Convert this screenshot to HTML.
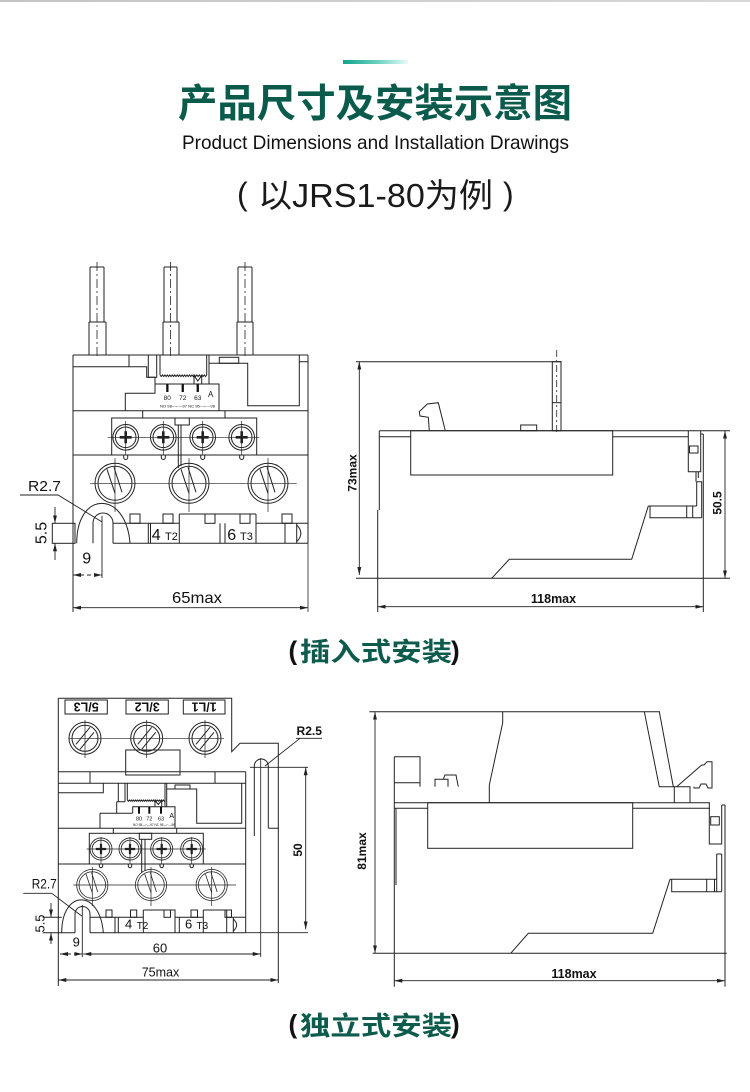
<!DOCTYPE html>
<html><head><meta charset="utf-8"><style>html,body{margin:0;padding:0;background:#fff}svg{display:block}</style></head>
<body>
<svg xmlns="http://www.w3.org/2000/svg" width="750" height="1092" viewBox="0 0 750 1092">
<defs>
<linearGradient id="tg" x1="0" x2="1" y1="0" y2="0"><stop offset="0" stop-color="#10a48c"/><stop offset="0.55" stop-color="#6fd3c1"/><stop offset="1" stop-color="#e8fbf8"/></linearGradient>
<linearGradient id="gb" x1="0" x2="1" y1="0" y2="0"><stop offset="0" stop-color="#c4c4c4"/><stop offset="1" stop-color="#d8d8d8"/></linearGradient>
<marker id="ar" viewBox="0 0 8 4" refX="8" refY="2" markerWidth="8" markerHeight="4" orient="auto-start-reverse" markerUnits="userSpaceOnUse"><path d="M0,0L8,2L0,4z" fill="#222"/></marker>
<g id="ss" fill="none" stroke="#222"><circle r="12.8"/><circle r="10.3"/><path d="M-6,0H6M0,-6V6" stroke-width="2.6"/></g>
<g id="bs" fill="none" stroke="#222"><circle r="20"/><circle r="17"/><path d="M-8,-14L0,10M-1,-16L7,9"/></g>
<g id="ls" fill="none" stroke="#222"><circle r="16"/><circle r="13"/><path d="M-9,6L5,-11M-5,11L9,-6"/></g>
</defs>

<!-- header -->
<rect x="0" y="0" width="750" height="2" fill="url(#gb)"/>
<rect x="343" y="60" width="65" height="4" fill="url(#tg)"/>
<text x="178" y="117" font-family="'Liberation Sans','Noto Sans CJK SC',sans-serif" font-weight="700" font-size="39" fill="#0b5b4c" textLength="394" lengthAdjust="spacingAndGlyphs">产品尺寸及安装示意图</text>
<text x="182" y="149" font-family="'Liberation Sans',sans-serif" font-size="19.5" fill="#111" textLength="387" lengthAdjust="spacingAndGlyphs">Product Dimensions and Installation Drawings</text>
<g font-family="'Liberation Sans','Noto Sans CJK SC',sans-serif" fill="#1a1a1a">
<text x="237" y="205" font-size="32">(</text>
<text x="258" y="207" font-size="33" textLength="235" lengthAdjust="spacingAndGlyphs">以JRS1-80为例</text>
<text x="503" y="205" font-size="32">)</text>
</g>

<!-- ===== TOP LEFT DRAWING ===== -->
<g fill="none" stroke="#222" stroke-width="1">
<path d="M90,267H104M90,267V322M104,267V322M89,322H106M89,322V355M106,322V355"/>
<path d="M164,267H177M164,267V322M177,267V322M163,322H179M163,322V355M179,322V355"/>
<path d="M238,267H252M238,267V322M252,267V322M237,322H253M237,322V355M253,322V355"/>
<path d="M97,262V358M170.5,262V358M245,262V358" stroke-width="0.8" stroke-dasharray="9 3 2 3"/>
<path d="M73,355H308M73,355V612M308,355V543.3"/>
<path d="M308,543.3V612" stroke-width="0.8"/>
<path d="M129,355V366.7M73,366.7H146.7V377.3H155V393.3H125.3V410.7"/>
<rect x="148.3" y="355" width="8.4" height="22.3"/>
<path d="M155,393.3V384H219V410.7"/>
<path d="M160,375V355M206.7,355V375"/>
<path d="M160,375l1.23,1.6l1.23,-1.6l1.23,1.6l1.23,-1.6l1.23,1.6l1.23,-1.6l1.23,1.6l1.23,-1.6l1.23,1.6l1.23,-1.6l1.23,1.6l1.23,-1.6l1.23,1.6l1.23,-1.6l1.23,1.6l1.23,-1.6l1.23,1.6l1.23,-1.6l1.23,1.6l1.23,-1.6l1.23,1.6l1.23,-1.6l1.23,1.6l1.23,-1.6l1.23,1.6l1.23,-1.6l1.23,1.6l1.23,-1.6l1.23,1.6l1.23,-1.6l1.23,1.6l1.23,-1.6l1.23,1.6l1.23,-1.6l1.23,1.6l1.23,-1.6l1.23,1.6l1.23,-1.6"/>
<path d="M194,384V375.5L197.8,381L201.7,375.5V384"/>
<path d="M209,355V384"/>
<path d="M209,363.3H247.7V405.7H299.3V355"/>
<rect x="219.3" y="357.3" width="19.4" height="6"/>
<path d="M299.3,361.7H308"/>
<path d="M73,410.7H308"/>
<path d="M142.7,410.7V418M225,410.7V418"/>
<rect x="111.7" y="418" width="145" height="37"/>
<rect x="175" y="418" width="14.3" height="7"/>
<path d="M178.3,425V468M181,425V466"/>
<path d="M107.7,437.3H259.3M125.7,421V455M163.3,421V455M202.7,421V455M241.7,421V455" stroke-width="0.7"/>
<path d="M73,455H308"/>
<path d="M123.7,455v2.5a2,2 0 0 0 4,0v-2.5M161.3,455v2.5a2,2 0 0 0 4,0v-2.5M200.7,455v2.5a2,2 0 0 0 4,0v-2.5M239.7,455v2.5a2,2 0 0 0 4,0v-2.5"/>
<path d="M90,483.3H296.7M115,458V512M189,458V512M268,458V512" stroke-width="0.7"/>
<!-- strip -->
<rect x="52.3" y="523.3" width="22.7" height="20"/>
<path d="M76.7,543.3C76.7,490 126,490 130,543.3"/>
<path d="M93,543.3V523A10,10 0 0 1 113,523V543.3"/>
<path d="M113,543.3H308"/>
<path d="M113,523.3H179.3M256,523.3H308"/>
<path d="M179.3,514V543.3M256,514V543.3M179.3,514H256"/>
<rect x="130" y="514" width="10" height="9.3"/>
<rect x="163" y="514" width="10" height="9.3"/>
<rect x="205" y="514" width="10" height="9.3"/>
<rect x="240" y="514" width="10" height="9.3"/>
<rect x="282" y="514" width="10" height="9.3"/>
<path d="M148.3,523.3V543.3M150.5,523.3V543.3M220,523.3V543.3M225,523.3V543.3M285,523.3V543.3M296.7,523.3V543.3"/>
<path d="M296.7,525Q305,533.3 296.7,541.6"/>
</g>
<g fill="none" stroke="#222" stroke-width="0.9">
<path d="M20,495H58L101.7,521.7"/>
<path d="M55,507V523.3" marker-end="url(#ar)"/>
<path d="M55,560V543.3" marker-end="url(#ar)"/>
<path d="M102,516V578"/>
<path d="M73,575H102" stroke-dasharray="4 3" marker-start="url(#ar)" marker-end="url(#ar)"/>
<path d="M73,607.7H308" marker-start="url(#ar)" marker-end="url(#ar)"/>
</g>
<use href="#ss" transform="translate(125.7,437.3)"/>
<use href="#ss" transform="translate(163.3,437.3)"/>
<use href="#ss" transform="translate(202.7,437.3)"/>
<use href="#ss" transform="translate(241.7,437.3)"/>
<use href="#bs" transform="translate(115,483.3)"/>
<use href="#bs" transform="translate(189,483.3)"/>
<use href="#bs" transform="translate(268,483.3)"/>
<g fill="#111" font-family="'Liberation Sans',sans-serif">
<rect x="166.2" y="384" width="2.3" height="8"/>
<rect x="181.6" y="384" width="2.3" height="8"/>
<rect x="196.6" y="384" width="2.3" height="8"/>
<text x="167.3" y="400" font-size="6.5" text-anchor="middle">80</text>
<text x="182.7" y="400" font-size="6.5" text-anchor="middle">72</text>
<text x="197.7" y="400" font-size="6.5" text-anchor="middle">63</text>
<text x="210.7" y="397" font-size="8" text-anchor="middle">A</text>
<text x="160" y="407.5" font-size="3.8" textLength="55" lengthAdjust="spacingAndGlyphs">NO 98—⌐—97  NC 95—⌐—96</text>
<text x="151.7" y="540" font-size="16">4</text>
<text x="165" y="540" font-size="11">T2</text>
<text x="227.3" y="540" font-size="16">6</text>
<text x="240" y="540" font-size="11">T3</text>
<text x="28" y="491" font-size="15" textLength="33" lengthAdjust="spacingAndGlyphs">R2.7</text>
<text transform="translate(41,533) rotate(-90)" y="5.6" font-size="16" text-anchor="middle">5.5</text>
<text x="86.7" y="563.5" font-size="16" text-anchor="middle">9</text>
<text x="172" y="603" font-size="16" textLength="50" lengthAdjust="spacingAndGlyphs">65max</text>
</g>

<!-- ===== TOP RIGHT DRAWING ===== -->
<g fill="none" stroke="#222" stroke-width="1">
<path d="M356,361.7H561.7"/>
<path d="M359.3,361.7V575" stroke-width="0.9" marker-start="url(#ar)" marker-end="url(#ar)"/>
<path d="M356,578.3H730"/>
<rect x="552.3" y="361.7" width="8.7" height="69"/>
<path d="M552.3,402.7H561"/>
<path d="M556.7,350V434" stroke-width="0.8" stroke-dasharray="7 3 2 3"/>
<path d="M379.3,430.7H730"/>
<path d="M379.3,436.7H410.7M612.7,436.7H688.3"/>
<path d="M379.3,430.7V510M377.7,510V612"/>
<rect x="410.7" y="430.7" width="202" height="44.3"/>
<path d="M429.3,430.7L428.3,417.3L420,416L419.3,411.7L427.3,404L438.3,402.7L445.3,430.7"/>
<rect x="520.7" y="425" width="16" height="5.7"/>
<path d="M688.3,430.7V471.7H700.7V430.7"/>
<rect x="689.5" y="446" width="8.5" height="7"/>
<path d="M696,471.7V481.7M698.3,471.7V478"/>
<path d="M700.7,434H703.3M703.3,434V612"/>
<path d="M696.7,481.7H701.7V517.7M696.7,481.7V506"/>
<path d="M648.3,506H696.7M650,506V517.7H701.7M686.7,506V517.7M692.7,506V517.7"/>
<path d="M648.3,506L631.7,559.3H509.3L491.7,578.3"/>
<path d="M725,430.7V578.3" stroke-width="0.9" marker-start="url(#ar)" marker-end="url(#ar)"/>
<path d="M377.7,606.7H703.3" stroke-width="0.9" marker-start="url(#ar)" marker-end="url(#ar)"/>
</g>
<g fill="#111" font-family="'Liberation Sans',sans-serif" font-weight="700" font-size="12">
<text transform="translate(352,473) rotate(-90)" y="4.3" text-anchor="middle">73max</text>
<text transform="translate(717,503) rotate(-90)" y="4.3" text-anchor="middle">50.5</text>
<text x="553.5" y="603" text-anchor="middle" font-size="12.5">118max</text>
</g>

<!-- heading 1 -->
<g font-family="'Liberation Sans','Noto Sans CJK SC',sans-serif" font-weight="700">
<text x="288.5" y="659.5" font-size="26" fill="#111">(</text>
<text x="300" y="661" font-size="26" fill="#0c5b4c" textLength="152" lengthAdjust="spacingAndGlyphs">插入式安装</text>
<text x="451" y="659.5" font-size="26" fill="#111">)</text>
</g>

<!-- ===== BOTTOM LEFT DRAWING ===== -->
<g fill="none" stroke="#222" stroke-width="1">
<path d="M58.3,698.3H231.7V751.7L240,743.3H278.3V828.3H268.3"/>
<path d="M58.3,698.3V986"/>
<rect x="65" y="700" width="42.3" height="14"/>
<rect x="126" y="700" width="42.3" height="14"/>
<rect x="183.3" y="700" width="41.7" height="14"/>
<path d="M68.3,738.3H224M85,720V758M146.7,720V758M205,720V758" stroke-width="0.7"/>
<rect x="125.7" y="750" width="54.3" height="25"/>
<path d="M58.3,771.7H245.7M58.3,783.3H245.7M90,771.7V783.3M215,771.7V783.3"/>
<path d="M245.7,771.7V932.7"/>
<path d="M254.3,836V766A7,7 0 0 1 268.3,766V828.3"/>
<path d="M260.7,758V957" stroke-width="0.8"/>
<path d="M278.3,828.3V983"/>
<path d="M58.3,792.7H103.3V783.3"/>
<path d="M118.3,783.3V801.7M125,783.3V801.7M116.7,801.7H125M116.7,801.7V813.3M100,813.3H132.7M100,813.3V828.3"/>
<path d="M132.7,813.3V806.7H175V828.3"/>
<path d="M127.3,800V783.3M165,783.3V806.7M166.7,783.3V806.7"/>
<path d="M127.3,800l1,1.3l1,-1.3l1,1.3l1,-1.3l1,1.3l1,-1.3l1,1.3l1,-1.3l1,1.3l1,-1.3l1,1.3l1,-1.3l1,1.3l1,-1.3l1,1.3l1,-1.3l1,1.3l1,-1.3l1,1.3l1,-1.3l1,1.3l1,-1.3l1,1.3l1,-1.3l1,1.3l1,-1.3l1,1.3l1,-1.3l1,1.3l1,-1.3l1,1.3l1,-1.3l1,1.3l1,-1.3l1,1.3l1,-1.3l1,1.3l1,-1.3"/>
<path d="M155,806.7V800.5L158.3,804.5L161.7,800.5V806.7"/>
<rect x="175" y="785" width="15" height="4"/>
<path d="M166.7,789H196.7V823.3H241.7V783.3"/>
<path d="M58.3,828.3H245.7"/>
<path d="M113.3,828.3V833.3M176.7,828.3V833.3"/>
<rect x="89.3" y="833.3" width="114" height="30.7"/>
<rect x="139.3" y="833.3" width="12.4" height="6"/>
<path d="M141.7,839.3V873M145,839.3V871"/>
<path d="M86.7,849H205.7M101,837V864M130,837V864M161.7,837V864M191.7,837V864" stroke-width="0.7"/>
<path d="M99.3,864v2a1.7,1.7 0 0 0 3.4,0v-2M128.3,864v2a1.7,1.7 0 0 0 3.4,0v-2M160,864v2a1.7,1.7 0 0 0 3.4,0v-2M190,864v2a1.7,1.7 0 0 0 3.4,0v-2"/>
<path d="M58.3,864H245.7"/>
<path d="M73.3,885H236M92.3,867V906M151,867V906M211.7,867V906" stroke-width="0.7"/>
<!-- strip -->
<path d="M42.7,917.3H61.7M42.7,932.7H75"/>
<path d="M61.7,932.7C61.7,889 100,889 103.3,932.7"/>
<path d="M75,932.7V914A7.5,7.5 0 0 1 90,914V932.7"/>
<path d="M90,932.7H245.7"/>
<path d="M90,917.3H143.3M175,917.3H203.3M226.7,917.3H245.7"/>
<path d="M143.3,910H175V932.7M143.3,910V932.7M203.3,910H226.7V932.7M203.3,910V932.7"/>
<rect x="106" y="910" width="6" height="7.3"/>
<rect x="130.5" y="910" width="6.2" height="7.3"/>
<rect x="164" y="910" width="6.5" height="7.3"/>
<rect x="191" y="910" width="6.5" height="7.3"/>
<rect x="225" y="910" width="6.5" height="7.3"/>
<path d="M115,917.3V932.7M118.3,917.3V932.7M179.3,917.3V932.7M233.3,917.3V932.7"/>
<path d="M233.3,919Q240,925 233.3,931"/>
</g>
<g fill="none" stroke="#222" stroke-width="0.9">
<path d="M296,738.3H322M300,738.3L265,766"/>
<path d="M250,767.3H308"/>
<path d="M305.7,767.3V929.3" marker-start="url(#ar)" marker-end="url(#ar)"/>
<path d="M245.7,932.7H308"/>
<path d="M23.3,893.3H51.7L81.7,916"/>
<path d="M51,903V917.3" marker-end="url(#ar)"/>
<path d="M51,944V932.7" marker-end="url(#ar)"/>
<path d="M82.3,905V957"/>
<path d="M60,954H82.3" stroke-dasharray="4 3" marker-start="url(#ar)" marker-end="url(#ar)"/>
<path d="M83.3,954H260.7" marker-start="url(#ar)" marker-end="url(#ar)"/>
<path d="M58.3,980H278.3" marker-start="url(#ar)" marker-end="url(#ar)"/>
</g>
<use href="#ls" transform="translate(85,738.3)"/>
<use href="#ls" transform="translate(146.7,738.3)"/>
<use href="#ls" transform="translate(205,738.3)"/>
<use href="#ss" transform="translate(101,849) scale(0.86)"/>
<use href="#ss" transform="translate(130,849) scale(0.86)"/>
<use href="#ss" transform="translate(161.7,849) scale(0.86)"/>
<use href="#ss" transform="translate(191.7,849) scale(0.86)"/>
<use href="#bs" transform="translate(92.3,885) scale(0.78)"/>
<use href="#bs" transform="translate(151,885) scale(0.78)"/>
<use href="#bs" transform="translate(211.7,885) scale(0.78)"/>
<g fill="#111" font-family="'Liberation Sans',sans-serif">
<g font-weight="700" font-size="12.5">
<text transform="translate(86.2,707) rotate(180)" y="4.5" text-anchor="middle">5/L3</text>
<text transform="translate(147.2,707) rotate(180)" y="4.5" text-anchor="middle">3/L2</text>
<text transform="translate(204.2,707) rotate(180)" y="4.5" text-anchor="middle">1/L1</text>
<text x="296.5" y="735" font-size="12" textLength="25.5" lengthAdjust="spacingAndGlyphs">R2.5</text>
<text transform="translate(297.5,850) rotate(-90)" y="4.3" text-anchor="middle" font-size="12">50</text>
</g>
<rect x="138" y="806.7" width="2" height="7"/>
<rect x="148.3" y="806.7" width="2" height="7"/>
<rect x="160" y="806.7" width="2" height="7"/>
<text x="139" y="820.5" font-size="5.5" text-anchor="middle">80</text>
<text x="149.3" y="820.5" font-size="5.5" text-anchor="middle">72</text>
<text x="161" y="820.5" font-size="5.5" text-anchor="middle">63</text>
<text x="171.7" y="818" font-size="7" text-anchor="middle">A</text>
<text x="133" y="826" font-size="3.3" textLength="42" lengthAdjust="spacingAndGlyphs">NO 98—⌐—97  NC 95—⌐—96</text>
<text x="125" y="928.5" font-size="13">4</text>
<text x="136.7" y="929" font-size="10">T2</text>
<text x="185" y="928.5" font-size="13">6</text>
<text x="196.5" y="929" font-size="10">T3</text>
<text x="31.7" y="888.5" font-size="14" textLength="25" lengthAdjust="spacingAndGlyphs">R2.7</text>
<text transform="translate(40,923.5) rotate(-90)" y="4.6" font-size="13" text-anchor="middle">5.5</text>
<text x="76.3" y="946.5" font-size="13" text-anchor="middle">9</text>
<text x="160" y="952.5" font-size="13" text-anchor="middle">60</text>
<text x="141.7" y="976.5" font-size="13" textLength="37.6" lengthAdjust="spacingAndGlyphs">75max</text>
</g>

<!-- ===== BOTTOM RIGHT DRAWING ===== -->
<g fill="none" stroke="#222" stroke-width="1">
<path d="M369.3,711.7H660"/>
<path d="M375,711.7V953.3" stroke-width="0.9" marker-start="url(#ar)" marker-end="url(#ar)"/>
<path d="M372.7,953.3H726.7"/>
<path d="M394.3,756.7V986.7"/>
<path d="M396,808.3V885"/>
<path d="M394.3,802.7H710"/>
<path d="M394.3,808.3H427.7M632.7,808.3H710"/>
<rect x="427.7" y="802.7" width="205" height="45.6"/>
<path d="M489.3,802.7V785L502.7,722.7V711.7"/>
<path d="M644.3,711.7L659.3,786.7H674.3V802.7"/>
<path d="M659.3,711.7L673.3,786.7"/>
<path d="M674.3,786.7H690V802.7"/>
<path d="M676.7,786.7L701.7,765H704L707,761.7H712V788H708L706,784H701L699,788H694V786.7"/>
<path d="M394.3,756.7H420V786.7M394.3,782.7H420"/>
<path d="M435,786.7V779.3H443.3L445,775H456L458.3,786.7M443.3,779.3H448V786.7"/>
<path d="M709.3,802.7V844H721.7V805"/>
<rect x="710.7" y="816.7" width="8.6" height="8.3"/>
<path d="M725,805V986.7M721.7,805H725"/>
<path d="M716.7,854V891.7M721.7,854V891.7M716.7,854H721.7"/>
<path d="M670,879.3H716.7M671.7,879.3V891.7H721.7M706.7,879.3V891.7M714.5,879.3V891.7"/>
<path d="M670,879.3L652.7,933.3H528.3L510.7,953.3"/>
<path d="M394.3,980.7H725" stroke-width="0.9" marker-start="url(#ar)" marker-end="url(#ar)"/>
</g>
<g fill="#111" font-family="'Liberation Sans',sans-serif" font-weight="700" font-size="12">
<text transform="translate(361.5,851) rotate(-90)" y="4.3" text-anchor="middle">81max</text>
<text x="574" y="978" text-anchor="middle" font-size="12.5">118max</text>
</g>

<!-- heading 2 -->
<g font-family="'Liberation Sans','Noto Sans CJK SC',sans-serif" font-weight="700">
<text x="288.5" y="1033" font-size="26" fill="#111">(</text>
<text x="300" y="1035" font-size="26" fill="#0c5b4c" textLength="152" lengthAdjust="spacingAndGlyphs">独立式安装</text>
<text x="451" y="1033" font-size="26" fill="#111">)</text>
</g>
</svg>
</body></html>
